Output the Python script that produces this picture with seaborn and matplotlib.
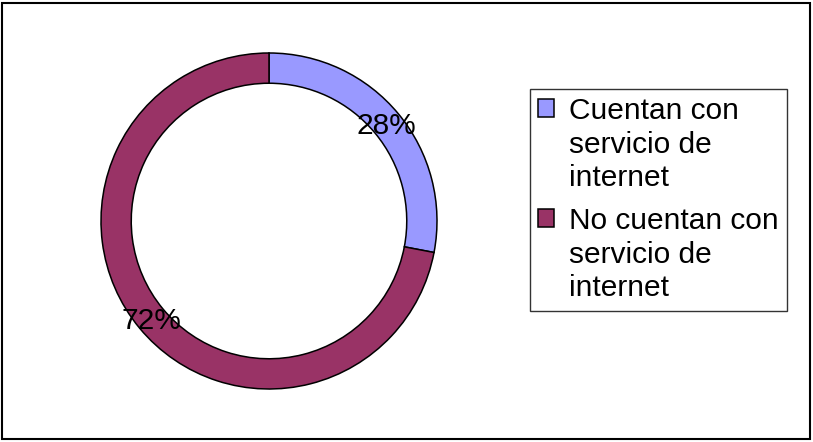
import matplotlib
matplotlib.use("Agg")
import matplotlib.pyplot as plt
import seaborn as sns
from matplotlib.patches import Rectangle
from matplotlib.legend_handler import HandlerPatch

categorias = ["Cuentan con\nservicio de\ninternet", "No cuentan con\nservicio de\ninternet"]
porcentajes = [28, 72]
colores = ["#9999FF", "#993366"]

sns.set_theme(style="white")
plt.rcParams["font.family"] = ["Liberation Sans", "DejaVu Sans"]
plt.rcParams["text.color"] = "black"

W, H = 813, 442
fs = 21.5
interlineado = 1.25
fig = plt.figure(figsize=(W / 100, H / 100), dpi=100)

# donut: centro (269, 221) px, radio 168 px
cx, cy, r = 269, 221, 168
ax = fig.add_axes([(cx - r) / W, (H - cy - r) / H, 2 * r / W, 2 * r / H])
wedges, textos, autotextos = ax.pie(
    porcentajes,
    colors=colores,
    startangle=90,
    counterclock=False,
    radius=1,
    autopct="%1.0f%%",
    pctdistance=0.91,
    wedgeprops=dict(width=0.18, edgecolor="black", linewidth=1.1),
    textprops=dict(fontsize=fs, color="black"),
)
for w in wedges:
    w.set_clip_on(False)
for t in autotextos:
    x, y = t.get_position()
    t.set_position((x, y - 0.015))
ax.set_xlim(-1, 1)
ax.set_ylim(-1, 1)
ax.set_aspect("equal")
ax.axis("off")


def cuadro_arriba(legend, orig_handle, xdescent, ydescent, width, height, fontsize):
    # cuadrito alineado con la primera línea del texto
    return Rectangle((-xdescent, -ydescent + interlineado * fontsize), width, height)


leg = fig.legend(
    wedges, categorias,
    loc="upper left",
    bbox_to_anchor=(530 / W, 1 - 89 / H),
    fontsize=fs,
    frameon=True,
    fancybox=False,
    shadow=False,
    handlelength=0.54,
    handleheight=0.54,
    handletextpad=0.47,
    borderpad=0.28,
    labelspacing=0.5,
    borderaxespad=0,
    handler_map={w: HandlerPatch(patch_func=cuadro_arriba) for w in wedges},
)
leg.get_frame().set_edgecolor("black")
leg.get_frame().set_linewidth(1.0)
for t in leg.get_texts():
    t.set_linespacing(interlineado)
    t.set_color("black")

# borde del gráfico
fig.patches.append(Rectangle((2 / W, 3 / H), 808 / W, 436 / H, transform=fig.transFigure,
                             fill=False, edgecolor="black", linewidth=1.5))

fig.savefig("out.png", dpi=100, facecolor="white")
